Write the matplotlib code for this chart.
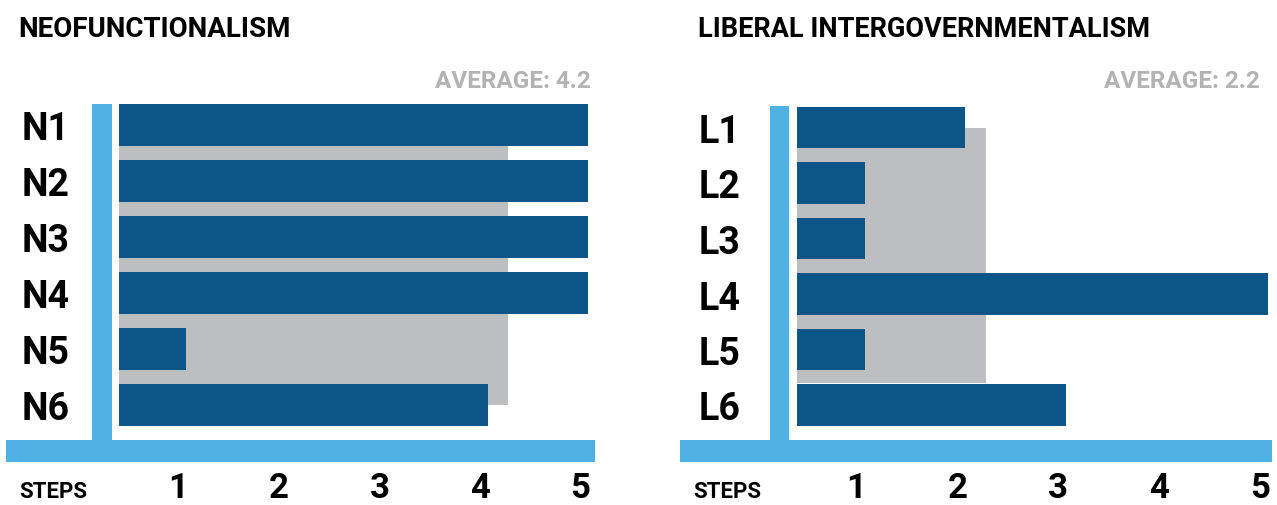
import matplotlib
matplotlib.use("Agg")
import matplotlib.pyplot as plt
from matplotlib.patches import Rectangle

# ---- data -------------------------------------------------------------
neo_labels = ["N1", "N2", "N3", "N4", "N5", "N6"]
neo_steps = [5, 5, 5, 5, 1, 4]
neo_average = 4.2

li_labels = ["L1", "L2", "L3", "L4", "L5", "L6"]
li_steps = [2, 1, 1, 5, 1, 3]
li_average = 2.2

step_ticks = [1, 2, 3, 4, 5]

# ---- style ------------------------------------------------------------
DARK_BLUE = "#0b5588"
LIGHT_BLUE = "#4fb1e4"
AVG_GREY = "#bdbec0"
AVG_TEXT = "#b3b3b3"
FONT = "Roboto"

W, H = 1277, 506
fig = plt.figure(figsize=(W / 100, H / 100), dpi=100)


def panel(x0_px, width_px, zero_px, unit_px, row0_px, pitch_px,
          title, title_size, labels, values, average, avg_span, vbar_top,
          hbar_x, steps_x, avg_right_px):
    ax = fig.add_axes([x0_px / W, 0, width_px / W, 1])
    ax.set_axis_off()
    # map the axes so that data units line up with the pixel grid
    ax.set_xlim((x0_px - zero_px) / unit_px, (x0_px + width_px - zero_px) / unit_px)
    ax.set_ylim((H - row0_px) / pitch_px, -row0_px / pitch_px)

    rows = list(range(len(labels)))
    bar_start = 0.33  # bars begin just right of the axis strip

    # average band behind the bars
    ax.add_patch(Rectangle((bar_start, avg_span[0]), average - bar_start,
                           avg_span[1] - avg_span[0], color=AVG_GREY, lw=0, zorder=1))
    ax.barh(rows, [v - bar_start for v in values], left=bar_start, height=0.75,
            color=DARK_BLUE, zorder=2)

    # axis strips
    ax.add_patch(Rectangle((0.06, vbar_top), 0.195, 5.63 - vbar_top,
                           color=LIGHT_BLUE, lw=0, zorder=3))
    ax.add_patch(Rectangle((hbar_x[0], 5.63), hbar_x[1] - hbar_x[0], 0.39,
                           color=LIGHT_BLUE, lw=0, zorder=3))

    for r, lab in zip(rows, labels):
        ax.text(-0.64, r, lab, ha="left", va="center_baseline", fontsize=27,
                fontweight="bold", family=FONT, color="black")

    tick_base = (498 - row0_px) / pitch_px
    for t in step_ticks:
        ax.text(t - 0.08, tick_base, str(t), ha="center", va="baseline", fontsize=25,
                fontweight="bold", family=FONT, color="black")
    ax.text(steps_x, tick_base, "STEPS", ha="center", va="baseline", fontsize=16,
            fontweight="bold", family=FONT, color="black")

    fig.text((x0_px + (18 if x0_px == 0 else 58)) / W, 1 - 37 / H, title,
             ha="left", va="baseline", fontsize=title_size, fontweight="bold",
             family=FONT, color="black")
    fig.text(avg_right_px / W, 1 - 88 / H, f"AVERAGE: {average}",
             ha="right", va="baseline", fontsize=17.5, fontweight="bold",
             family=FONT, color=AVG_TEXT)


panel(0, 640, 86.0, 100.5, 126.0, 56.0,
      "NEOFUNCTIONALISM", 20, neo_labels, neo_steps, neo_average,
      (0.0, 5.0), -0.375, (-0.80, 5.06), -0.33, 591)
panel(640, 637, 763.6, 100.9, 128.5, 55.5,
      "LIBERAL INTERGOVERNMENTALISM", 19.5, li_labels, li_steps, li_average,
      (0.0, 4.6), -0.39, (-0.83, 5.04), -0.36, 1260)

fig.savefig("out.png", dpi=100)
